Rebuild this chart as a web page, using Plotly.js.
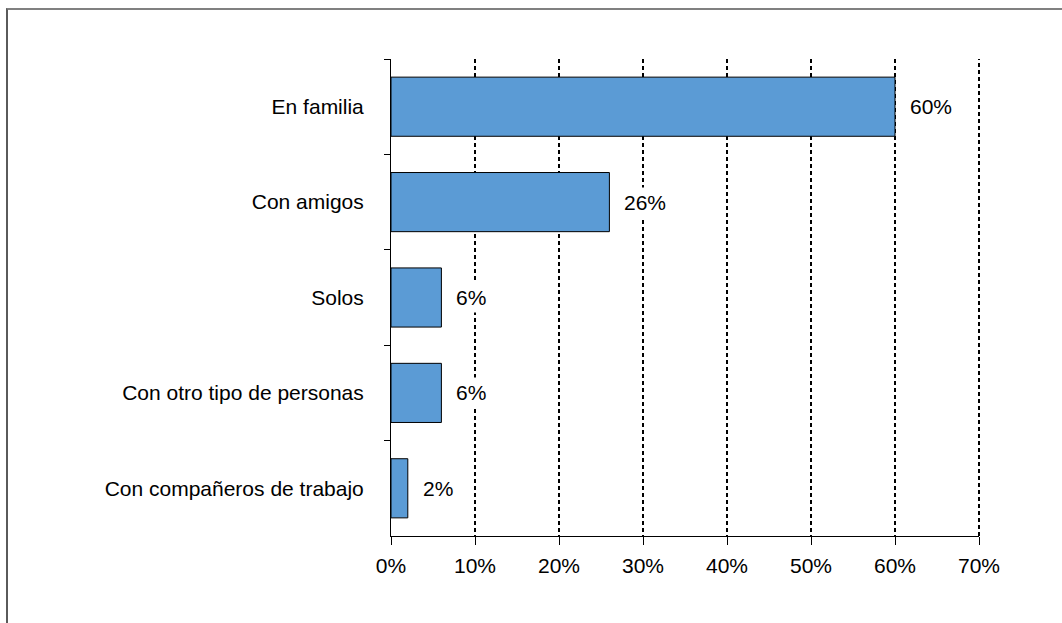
<!DOCTYPE html>
<html>
<head>
<meta charset="utf-8">
<script src="https://cdn.plot.ly/plotly-3.0.1.min.js"></script>
<style>
  html, body { margin: 0; padding: 0; background: #ffffff; overflow: hidden; }
  #frame { position: absolute; left: 6px; top: 8px; width: 1200px; height: 800px;
           border-top: 2px solid #808080; border-left: 2px solid #5a5a5a; }
  #chart { position: absolute; left: 0; top: 0; width: 1062px; height: 623px; }
</style>
</head>
<body>
<div id="frame"></div>
<div id="chart"></div>
<script>
const categories = ["En familia", "Con amigos", "Solos", "Con otro tipo de personas", "Con compañeros de trabajo"];
const values = [60, 26, 6, 6, 2];
const valueLabels = ["60%", "26%", "6%", "6%", "2%"];
const xTickVals = [0, 10, 20, 30, 40, 50, 60, 70];
const xTickText = ["0%", "10%", "20%", "30%", "40%", "50%", "60%", "70%"];
const xMax = 70;

const font = { family: "Liberation Sans, Arial, sans-serif", size: 21, color: "#000000" };

const trace = {
  type: "bar",
  orientation: "h",
  x: values,
  y: categories,
  width: 0.62,
  marker: { color: "#5B9BD5", line: { color: "#000000", width: 1 } },
  hoverinfo: "none"
};

const annotations = categories.map((c, i) => ({
  x: values[i], y: c, xref: "x", yref: "y",
  text: valueLabels[i], showarrow: false,
  xanchor: "left", yanchor: "middle", xshift: 11,
  bgcolor: "#ffffff", borderpad: 3,
  font: font
}));

const layout = {
  width: 1062, height: 623,
  margin: { l: 391, r: 83, t: 59, b: 87, pad: 0 },
  paper_bgcolor: "rgba(0,0,0,0)",
  plot_bgcolor: "rgba(0,0,0,0)",
  font: font,
  showlegend: false,
  bargap: 0.38,
  xaxis: {
    range: [0, xMax],
    tickvals: xTickVals, ticktext: xTickText,
    showline: true, linecolor: "#000000", linewidth: 1,
    ticks: "outside", ticklen: 8, tickcolor: "#000000", tickwidth: 1,
    showgrid: true, gridcolor: "#000000", gridwidth: 2, griddash: "4px,3px",
    zeroline: false, fixedrange: true,
    ticklabelstandoff: 3,
    tickfont: font
  },
  yaxis: {
    autorange: "reversed",
    showline: true, linecolor: "#000000", linewidth: 1,
    ticks: "outside", ticklen: 6, tickcolor: "#000000", tickwidth: 1,
    tickson: "boundaries",
    showgrid: false, zeroline: false, fixedrange: true,
    ticklabelstandoff: 22,
    tickfont: font
  },
  shapes: [{
    type: "line", xref: "paper", yref: "paper", layer: "below",
    x0: 1, x1: 1, y0: 0, y1: 1,
    line: { color: "#000000", width: 2, dash: "4px,3px" }
  }],
  annotations: annotations
};

Plotly.newPlot("chart", [trace], layout, { displayModeBar: false, staticPlot: true });
</script>
</body>
</html>
